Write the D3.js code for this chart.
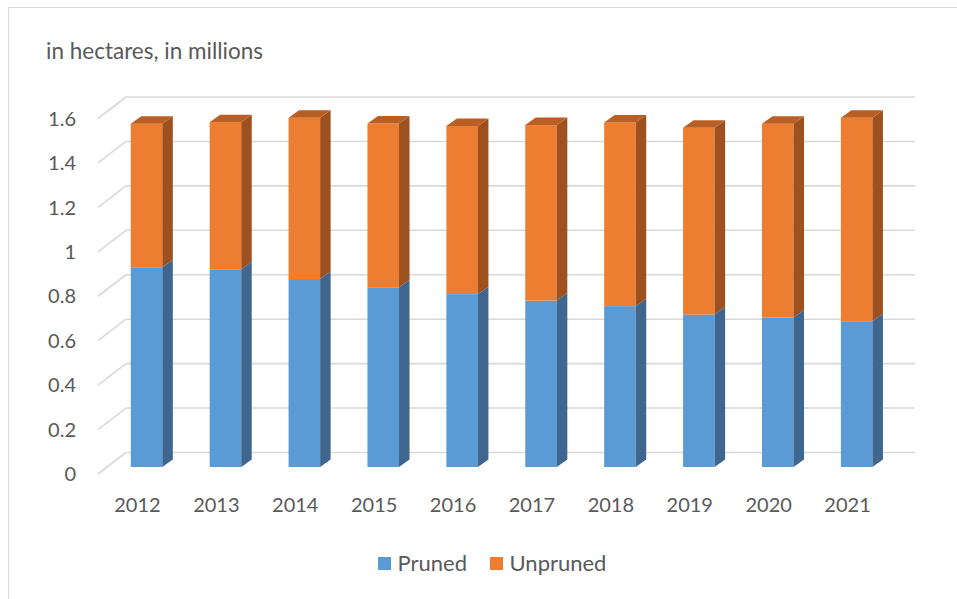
<!DOCTYPE html>
<html>
<head>
<meta charset="utf-8">
<script src="https://cdn.jsdelivr.net/npm/d3@7/dist/d3.min.js"></script>
<style>
  html, body { margin: 0; padding: 0; background: #fff; }
  svg { display: block; }
  text { font-family: "Lato", "Open Sans", sans-serif; fill: #595959; }
</style>
</head>
<body>
<svg id="chart" width="957" height="599"></svg>
<script>
// ---- data ----
const years = ["2012", "2013", "2014", "2015", "2016", "2017", "2018", "2019", "2020", "2021"];
const pruned = [0.899, 0.890, 0.846, 0.809, 0.778, 0.749, 0.724, 0.686, 0.673, 0.656];
const unpruned = [0.646, 0.662, 0.726, 0.737, 0.757, 0.790, 0.827, 0.841, 0.872, 0.916];
const seriesNames = ["Pruned", "Unpruned"];
const yTicks = [0, 0.2, 0.4, 0.6, 0.8, 1, 1.2, 1.4, 1.6];
const titleText = "in hectares, in millions";

// ---- layout ----
const backX0 = 126, backX1 = 915;      // back wall horizontal extent
const backY0 = 452.5, backYTop = 97;   // back wall y for 0 and 1.6
const floorDX = -28, floorDY = 21.5;   // back -> front of floor
const barFrac = 0.675;                 // depth fraction where bar front face sits
const depthDX = 10.5, depthDY = -7.5;  // bar depth

const colors = {
  Pruned:   { front: "#5B9BD5", side: "#3E668E", top: "#4A7EB0" },
  Unpruned: { front: "#ED7D31", side: "#9E501E", top: "#BA5F23" }
};

const svg = d3.select("#chart");

// frame
svg.append("rect")
  .attr("x", 8.5).attr("y", 7.5)
  .attr("width", 1000).attr("height", 1000)
  .attr("fill", "none").attr("stroke", "#D9D9D9").attr("stroke-width", 1);

// scales
const yBack = d3.scaleLinear().domain([0, 1.6]).range([backY0, backYTop]);
const barOffY = floorDY * barFrac, barOffX = floorDX * barFrac;
const yBar = d3.scaleLinear().domain([0, 1.6])
  .range([backY0 + barOffY, backYTop + barOffY]);
const xBar = d3.scaleBand().domain(years)
  .range([backX0 + barOffX, backX1 + barOffX])
  .paddingInner(0.6).paddingOuter(0.3);
const xLabel = d3.scaleBand().domain(years)
  .range([backX0 + floorDX, backX1 + floorDX]);

// gridlines (back wall + left floor diagonal)
const grid = svg.append("g");
yTicks.forEach(t => {
  const y = yBack(t);
  grid.append("line")
    .attr("x1", backX0).attr("x2", backX1).attr("y1", y).attr("y2", y)
    .attr("stroke", "#D9D9D9").attr("stroke-width", 1.6);
  grid.append("line")
    .attr("x1", backX0).attr("y1", y)
    .attr("x2", backX0 + floorDX).attr("y2", y + floorDY)
    .attr("stroke", "#D9D9D9").attr("stroke-width", 1.6);
  svg.append("text")
    .attr("x", 76).attr("y", y + floorDY)
    .attr("dy", "0.36em")
    .attr("text-anchor", "end")
    .attr("font-size", 20)
    .text(d3.format("")(t));
});

// title
svg.append("text").attr("x", 46).attr("y", 59).attr("font-size", 22.5).text(titleText);

// stacked data
const table = years.map((y, i) => ({ year: y, Pruned: pruned[i], Unpruned: unpruned[i] }));
const stacked = d3.stack().keys(seriesNames)(table);

const bw = xBar.bandwidth();
const barsG = svg.append("g");
years.forEach((yr, i) => {
  const g = barsG.append("g");
  stacked.forEach((layer, li) => {
    const d = layer[i];
    const c = colors[layer.key];
    const x = xBar(yr);
    const yT = yBar(d[1]), yB = yBar(d[0]);
    // front
    g.append("rect").attr("x", x).attr("y", yT).attr("width", bw).attr("height", yB - yT)
      .attr("fill", c.front);
    // side
    g.append("polygon")
      .attr("points", [[x + bw, yT], [x + bw + depthDX, yT + depthDY], [x + bw + depthDX, yB + depthDY], [x + bw, yB]].map(p => p.join(",")).join(" "))
      .attr("fill", c.side);
    // top (only visible for top segment)
    if (li === stacked.length - 1) {
      g.append("polygon")
        .attr("points", [[x, yT], [x + depthDX, yT + depthDY], [x + bw + depthDX, yT + depthDY], [x + bw, yT]].map(p => p.join(",")).join(" "))
        .attr("fill", c.top);
    }
  });
});

// x labels
years.forEach(yr => {
  svg.append("text")
    .attr("x", xLabel(yr) + xLabel.bandwidth() / 2)
    .attr("y", 511.5)
    .attr("text-anchor", "middle")
    .attr("font-size", 20)
    .text(yr);
});

// legend
const legendPos = [{ x: 378 }, { x: 490 }];
seriesNames.forEach((name, i) => {
  const lx = legendPos[i].x;
  svg.append("rect").attr("x", lx).attr("y", 557).attr("width", 13).attr("height", 13)
    .attr("fill", colors[name].front);
  svg.append("text").attr("x", lx + 19.5).attr("y", 570.5).attr("font-size", 22).text(name);
});
</script>
</body>
</html>
